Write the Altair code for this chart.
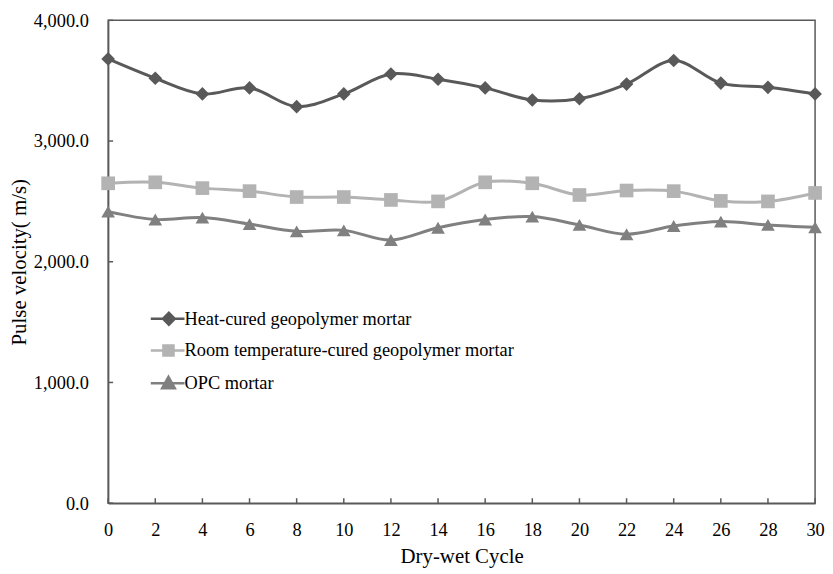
import altair as alt
import pandas as pd

cycles = [0, 2, 4, 6, 8, 10, 12, 14, 16, 18, 20, 22, 24, 26, 28, 30]
heat_cured = [3680, 3520, 3390, 3440, 3285, 3390, 3555, 3512, 3440, 3340, 3350, 3472, 3667, 3480, 3445, 3390]
room_cured = [2650, 2658, 2610, 2585, 2536, 2536, 2512, 2500, 2658, 2650, 2553, 2590, 2585, 2504, 2500, 2570]
opc = [2415, 2350, 2366, 2312, 2252, 2260, 2180, 2282, 2350, 2374, 2305, 2228, 2296, 2333, 2305, 2285]

series_names = ["Heat-cured geopolymer mortar",
                "Room temperature-cured geopolymer mortar",
                "OPC mortar"]
series_colors = ["#595959", "#b3b3b3", "#808080"]
marker_shapes = ["diamond", "square", "triangle-up"]
legend_paths = [
    "M-2,0H2M0.15,-0.7L0.85,0L0.15,0.7L-0.55,0Z",
    "M-2,0H2M-0.5,-0.6H0.7V0.6H-0.5Z",
    "M-2,0H2M0.1,-0.75L0.85,0.6H-0.65Z",
]
x_ticks = list(range(0, 31, 2))
y_ticks = [0, 1000, 2000, 3000, 4000]

rows = []
for name, vals in zip(series_names, [heat_cured, room_cured, opc]):
    for c, v in zip(cycles, vals):
        rows.append({"cycle": c, "velocity": v, "series": name})
df = pd.DataFrame(rows)

W, H = 713, 487
FONT = "Liberation Serif"

xscale = alt.Scale(domain=[0, 30], nice=False)
yscale = alt.Scale(domain=[0, 4000], nice=False)

x_enc = alt.X("cycle:Q", scale=xscale,
              axis=alt.Axis(values=x_ticks, title="Dry-wet Cycle", format="d",
                            ticks=False, grid=False, labelPadding=18, labelFlush=False,
                            titlePadding=6))
y_enc = alt.Y("velocity:Q", scale=yscale,
              axis=alt.Axis(values=y_ticks, title="Pulse velocity( m/s)", format=",.1f",
                            ticks=False, grid=False, labelPadding=20, labelFlush=False,
                            titlePadding=4))

base = alt.Chart(df)

layers = []
for i, (name, col) in enumerate(zip(series_names, series_colors)):
    sub = base.transform_filter(alt.datum.series == name)
    if i == 0:
        ln = sub.mark_line(interpolate="catmull-rom", strokeWidth=3, color=col).encode(x=x_enc, y=y_enc)
    else:
        ln = sub.mark_line(interpolate="catmull-rom", strokeWidth=3, color=col).encode(
            x="cycle:Q", y="velocity:Q")
    layers.append(ln)
for name, col, shp in zip(series_names, series_colors, marker_shapes):
    layers.append(
        base.transform_filter(alt.datum.series == name).mark_point(
            shape=shp, filled=True, color=col, opacity=1, size=190
        ).encode(x="cycle:Q", y="velocity:Q")
    )

# helper layer (clipped away) that only supplies the legend
legend_layer = base.mark_point(filled=True, opacity=1, clip=True).encode(
    x=alt.value(-500), y=alt.value(-500),
    fill=alt.Fill("series:N", scale=alt.Scale(domain=series_names, range=series_colors),
                  legend=alt.Legend(title=None, orient="none", legendX=50, legendY=291,
                                    symbolSize=289, symbolStrokeWidth=2.5,
                                    labelFont=FONT, labelFontSize=18.5, labelColor="black",
                                    labelOffset=7, rowPadding=10, padding=0,
                                    labelLimit=600)),
    stroke=alt.Stroke("series:N", scale=alt.Scale(domain=series_names, range=series_colors)),
    shape=alt.Shape("series:N", scale=alt.Scale(domain=series_names, range=legend_paths)),
)
layers.append(legend_layer)

tick_df = pd.DataFrame({"t": x_ticks})
layers.append(alt.Chart(tick_df).mark_rule(color="#595959", strokeWidth=1.5).encode(
    x=alt.X("t:Q", scale=xscale), y=alt.value(H), y2=alt.value(H - 5)))
ytick_df = pd.DataFrame({"v": y_ticks})
layers.append(alt.Chart(ytick_df).mark_rule(color="#595959", strokeWidth=1.5).encode(
    y=alt.Y("v:Q", scale=yscale), x=alt.value(0), x2=alt.value(5)))

chart = alt.layer(*layers).properties(
    width=W, height=H,
    autosize=alt.AutoSizeParams(type="none"),
    padding={"left": 101, "top": 10, "right": 10, "bottom": 69},
).configure_view(
    stroke="#595959", strokeWidth=1.5
).configure_axis(
    domainColor="#595959", domainWidth=1.5,
    labelFont=FONT, labelFontSize=18.5, labelColor="black",
    titleFont=FONT, titleFontSize=21, titleColor="black", titleFontWeight="normal",
)

chart.save("out.html", embed_options={"renderer": "svg", "actions": False})
